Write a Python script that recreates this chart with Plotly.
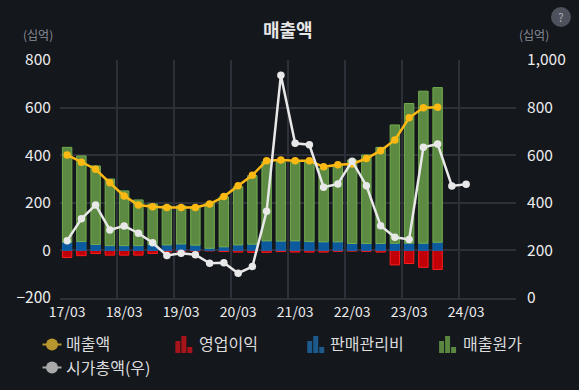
import plotly.graph_objects as go

periods = ["17/03","17/06","17/09","17/12","18/03","18/06","18/09","18/12","19/03","19/06","19/09","19/12",
           "20/03","20/06","20/09","20/12","21/03","21/06","21/09","21/12","22/03","22/06","22/09","22/12",
           "23/03","23/06","23/09","23/12","24/03","24/06","24/09","24/12"]
tick_labels = ["17/03","18/03","19/03","20/03","21/03","22/03","23/03","24/03"]

revenue = [401,370,341,284,229,191,183,180,180,180,195,226,272,316,377,380,377,377,351,360,363,386,419,464,557,599,601]
total_top = [433,397,355,300,250,212,195,187,187,185,198,225,268,314,373,372,372,372,345,358,380,401,433,527,617,669,684]
sga = [34,37,25,20,20,20,25,23,27,22,9,15,23,26,40,39,40,37,36,36,29,29,29,30,30,30,34]
op_profit = [-30,-22,-13,-20,-20,-20,-13,-6,-4,-3,-2,-5,-7,-8,-8,-5,-7,-7,-7,-4,-3,-4,-7,-61,-55,-71,-80]
market_cap = [241,333,391,286,303,272,232,179,188,182,146,148,104,132,364,936,650,644,465,479,575,472,304,255,246,633,647,471,478]
cogs = [t - s for t, s in zip(total_top, sga)]

W, H = 579, 390
L, R, T, B = 59.5, 516, 60, 298
BG = "#14171c"
GRID = "#2d3039"
FONT = "'Noto Sans CJK KR', 'Noto Sans', sans-serif"
NAMES = ["매출액", "영업이익", "판매관리비", "매출원가", "시가총액(우)"]

def xs(n):
    return list(range(n))

fig = go.Figure()
fig.add_bar(x=xs(len(op_profit)), y=op_profit, name=NAMES[1], width=0.66,
            marker=dict(color="#c00006", line=dict(color="#ff1e1e", width=1)))
fig.add_bar(x=xs(len(sga)), y=sga, name=NAMES[2], width=0.66,
            marker=dict(color="#0c5a9e", line=dict(color="#1464aa", width=1)))
fig.add_bar(x=xs(len(cogs)), y=cogs, name=NAMES[3], width=0.66,
            marker=dict(color="#5c8a42", line=dict(color="#74ad50", width=1)))
fig.add_scatter(x=xs(len(revenue)), y=revenue, name=NAMES[0], mode="lines+markers",
                line=dict(color="#fdb913", width=2.5), marker=dict(size=7.5, color="#fdb913"))
fig.add_scatter(x=xs(len(market_cap)), y=market_cap, name=NAMES[4], mode="lines+markers", yaxis="y2",
                line=dict(color="#e8e8e8", width=2.5), marker=dict(size=7.5, color="#e8e8e8"))

def px(x):
    return (x - L) / (R - L)
def py(y):
    return (B - y) / (B - T)

shapes, annos = [], []
def text(x, y, s, size=16, color="#dcdcdc", anchor="left", bold=False):
    annos.append(dict(x=px(x), y=py(y), xref="paper", yref="paper", text=f"<b>{s}</b>" if bold else s,
                      showarrow=False, xanchor=anchor, yanchor="middle", borderpad=0, borderwidth=0,
                      font=dict(size=size, color=color, family=FONT)))
def line_icon(x, y, color):
    shapes.append(dict(type="line", xref="paper", yref="paper", x0=px(x), x1=px(x + 19), y0=py(y), y1=py(y),
                       line=dict(color=color, width=2)))
    shapes.append(dict(type="circle", xref="paper", yref="paper", x0=px(x + 3.5), x1=px(x + 15.5),
                       y0=py(y + 6), y1=py(y - 6), fillcolor=color, line=dict(width=0)))
def bar_icon(x, color):
    for dx, top in ((0, 341), (6, 336), (12, 347)):
        shapes.append(dict(type="rect", xref="paper", yref="paper", x0=px(x + dx), x1=px(x + dx + 5),
                           y0=py(353), y1=py(top), fillcolor=color, line=dict(width=0)))

line_icon(42, 344.5, "#b8962e")
line_icon(42, 367.5, "#a9a9a9")
bar_icon(175, "#a81419")
bar_icon(307, "#1c5a8c")
bar_icon(439, "#5a8640")
text(65.5, 343, NAMES[0])
text(198.5, 343, NAMES[1])
text(329.5, 343, NAMES[2])
text(462.5, 343, NAMES[3])
text(65.5, 367, NAMES[4])
text(288, 29, "매출액", size=18, color="#e6e6e6", anchor="center", bold=True)
text(37, 35, "(십억)", size=12, color="#878c96", anchor="center")
text(534, 35, "(십억)", size=12, color="#878c96", anchor="center")
shapes.append(dict(type="circle", xref="paper", yref="paper", x0=px(551), x1=px(571), y0=py(27), y1=py(7),
                   fillcolor="#4d515c", line=dict(width=0)))
text(561, 17, "?", size=12, color="#a6a9b0", anchor="center")

TICKFONT = dict(size=15.5, color="#ececec")
fig.update_layout(
    width=W, height=H, autosize=False, showlegend=False, barmode="relative",
    paper_bgcolor=BG, plot_bgcolor=BG,
    margin=dict(l=L, r=W - R, t=T, b=H - B, pad=0),
    font=dict(family=FONT, color="#e6e6e6", size=15),
    shapes=shapes, annotations=annos,
    xaxis=dict(range=[-0.5, len(periods) - 0.5], tickmode="array",
               tickvals=[periods.index(t) for t in tick_labels], ticktext=tick_labels,
               showgrid=False, zeroline=False, ticks="", showline=True, linecolor=GRID, linewidth=2,
               tickfont=dict(size=14, color="#ececec"),
               minor=dict(tickmode="array", tickvals=[i - 0.5 for i in range(0, len(periods) + 1, 4)],
                          showgrid=True, gridcolor=GRID, gridwidth=1.5, ticks="")),
    yaxis=dict(range=[-200, 800], tickvals=[-200, 0, 200, 400, 600, 800], showgrid=True, gridcolor=GRID, gridwidth=1.5,
               zeroline=False, ticks="outside", ticklen=5, tickcolor=BG, tickfont=TICKFONT),
    yaxis2=dict(range=[0, 1000], tickvals=[0, 200, 400, 600, 800, 1000], tickformat=",", overlaying="y", side="right",
                showgrid=False, zeroline=False, ticks="outside", ticklen=7, tickcolor=BG, tickfont=TICKFONT),
)
fig.write_html("out.html", config={"displayModeBar": False},
               post_script=f"document.body.style.margin='0';document.body.style.background='{BG}';")
